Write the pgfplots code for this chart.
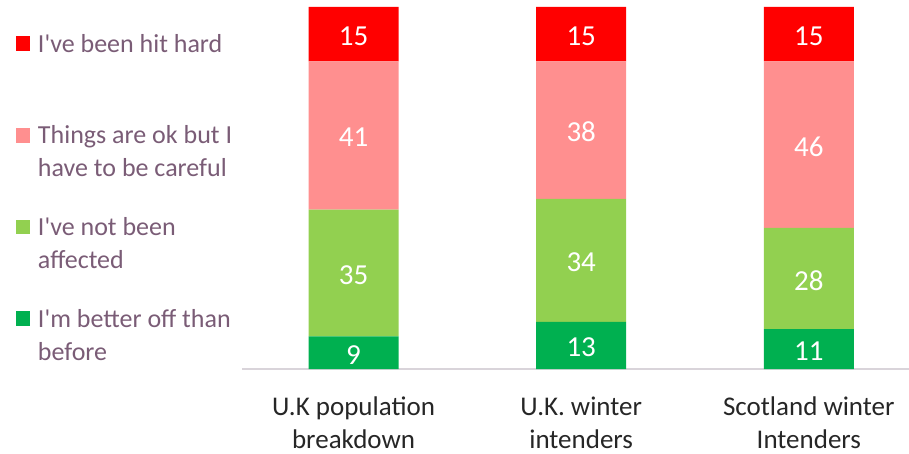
\documentclass[border=0pt]{standalone}
\usepackage{pgfplots}
\pgfplotsset{compat=1.18}
\usepackage{fontspec}
\setmainfont{Carlito}
\definecolor{hard}{HTML}{FF0000}
\definecolor{okc}{HTML}{FF8F8F}
\definecolor{notaff}{HTML}{92D050}
\definecolor{better}{HTML}{00B050}
\definecolor{legtext}{RGB}{122,92,118}
\definecolor{cattext}{HTML}{262626}
\definecolor{axisgrey}{HTML}{D9D4DA}
\begin{document}
\begin{tikzpicture}[x=1pt,y=1pt]
\useasboundingbox (0,0) rectangle (909,453);
\begin{axis}[
  at={(242pt,84pt)}, anchor=south west,
  scale only axis, width=667pt, height=362pt,
  xmin=-0.49, xmax=2.44, ymin=0, ymax=100,
  ybar stacked, bar width=90pt,
  axis x line*=bottom, axis y line=none,
  axis line style={draw=axisgrey, line width=1.5pt},
  xtick={0,1,2}, major tick length=0pt,
  xticklabels={{U.K population\\breakdown},{U.K. winter\\intenders},{Scotland winter\\Intenders}},
  xticklabel style={align=center, font=\fontsize{27}{33}\selectfont, text=cattext, inner sep=0pt, yshift=-28pt},
  ytick=\empty,
  /pgf/number format/assume math mode=true,
  nodes near coords,
  every node near coord/.append style={anchor=center, text=white, font=\fontsize{29}{33}\selectfont, yshift=-2pt},
  reverse legend,
  legend image code/.code={\fill[#1] (0pt,1.3pt) rectangle (14.5pt,15.8pt);},
  legend style={at={(axis description cs:-0.33883,0.9387)}, anchor=north west, draw=none, fill=none, inner sep=0pt, outer sep=0pt, row sep=67pt, column sep=7.5pt, font=\fontsize{26}{33}\selectfont\color{legtext}, cells={anchor=base west}, nodes={inner sep=0pt}},
]
\addplot[fill=better, draw=none] coordinates {(0,9) (1,13) (2,11)};
\addplot[fill=notaff, draw=none] coordinates {(0,35) (1,34) (2,28)};
\addplot[fill=okc, draw=none] coordinates {(0,41) (1,38) (2,46)};
\addplot[fill=hard, draw=none] coordinates {(0,15) (1,15) (2,15)};
\legend{{\parbox[t]{230pt}{\strut I\textquotesingle m better off than\\\strut before}},
        {\parbox[t]{230pt}{\strut I\textquotesingle ve not been\\\strut affected}},
        {\parbox[t]{230pt}{\strut Things are ok but I\\\strut have to be careful}},
        {\parbox[t]{230pt}{\strut I\textquotesingle ve been hit hard\\\strut}}}
\end{axis}
\end{tikzpicture}
\end{document}
